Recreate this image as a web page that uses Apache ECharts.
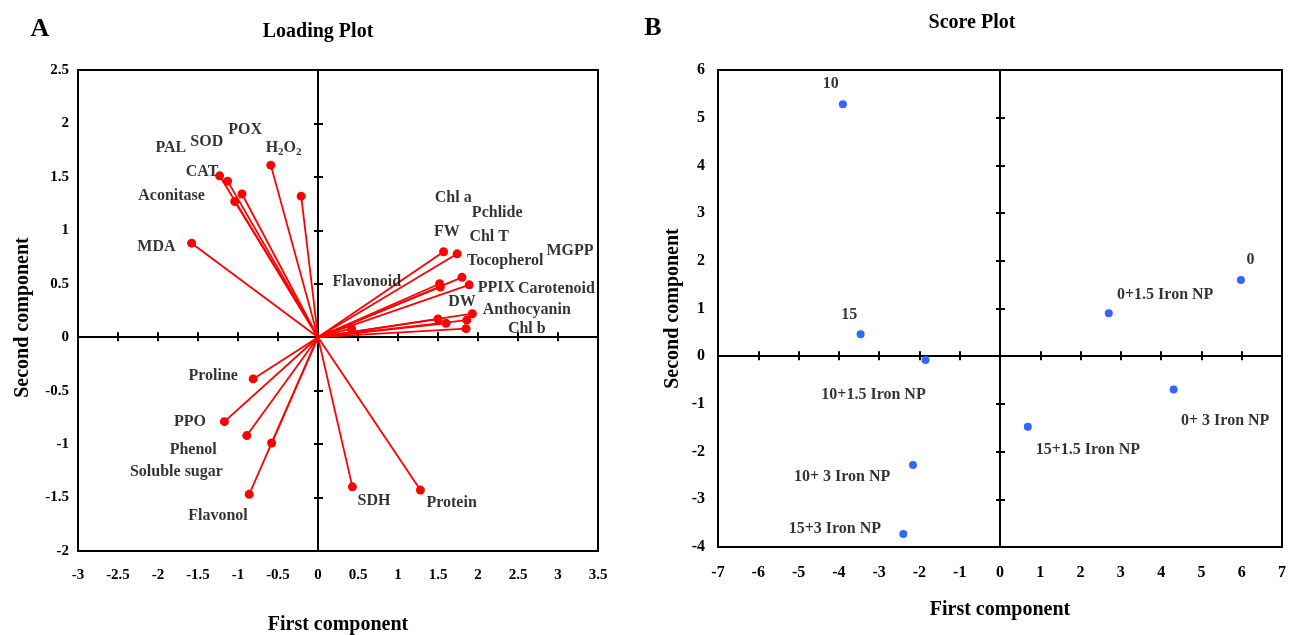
<!DOCTYPE html>
<html>
<head>
<meta charset="utf-8">
<title>Loading plot / Score plot</title>
<script src="https://cdn.jsdelivr.net/npm/echarts@6/dist/echarts.min.js"></script>
<style>
  html, body { margin: 0; padding: 0; background: #fff; }
  #chart { width: 1289px; height: 635px; }
</style>
</head>
<body>
<div id="chart"></div>
<script>
// A: loading plot, one vector per measured trait
const loadNames = ['PAL', 'SOD', 'POX', 'H2O2', 'CAT', 'Aconitase', 'MDA',
  'Chl a', 'Pchlide', 'FW', 'Chl T', 'MGPP', 'Tocopherol', 'Flavonoid', 'PPIX',
  'Carotenoid', 'DW', 'Anthocyanin', 'Chl b',
  'Proline', 'PPO', 'Phenol', 'Soluble sugar', 'Flavonol', 'SDH', 'Protein'];
const loadX = [-1.13, -1.04, -0.95, -0.59, -1.23, -0.21, -1.58,
  1.74, 1.80, 1.57, 1.89, 1.93, 1.52, 0.42, 1.86,
  1.85, 1.53, 1.50, 1.60,
  -0.81, -1.17, -0.89, -0.58, -0.86, 0.43, 1.28];
const loadY = [1.46, 1.27, 1.34, 1.61, 1.51, 1.32, 0.88,
  0.78, 0.56, 0.80, 0.49, 0.22, 0.50, 0.08, 0.16,
  0.08, 0.47, 0.17, 0.13,
  -0.39, -0.79, -0.92, -0.99, -1.47, -1.40, -1.43];
// where each name is written (axis units)
const loadTextX = [-1.84, -1.39, -0.91, -0.43, -1.45, -1.83, -2.02,
  1.69, 2.24, 1.61, 2.14, 3.15, 2.34, 0.61, 2.23,
  2.98, 1.80, 2.61, 2.61,
  -1.31, -1.60, -1.56, -1.77, -1.25, 0.70, 1.67];
const loadTextY = [1.77, 1.83, 1.94, 1.77, 1.55, 1.32, 0.85,
  1.30, 1.16, 0.99, 0.94, 0.81, 0.71, 0.52, 0.46,
  0.45, 0.33, 0.26, 0.08,
  -0.36, -0.79, -1.05, -1.26, -1.67, -1.53, -1.55];

// B: score plot, one point per treatment
const scoreNames = ['10', '15', '10+1.5 Iron NP', '0+1.5 Iron NP', '0',
  '0+ 3 Iron NP', '15+1.5 Iron NP', '10+ 3 Iron NP', '15+3 Iron NP'];
const scoreX = [-3.90, -3.46, -1.85, 2.70, 5.98, 4.31, 0.69, -2.16, -2.40];
const scoreY = [5.28, 0.46, -0.08, 0.90, 1.60, -0.70, -1.48, -2.28, -3.73];
const scoreTextX = [-4.20, -3.74, -3.14, 4.10, 6.22, 5.59, 2.18, -3.92, -4.10];
const scoreTextY = [5.70, 0.86, -0.81, 1.28, 2.02, -1.35, -1.97, -2.52, -3.63];

// axis ranges: [min, max, step]
const loadXRange = [-3, 3.5, 0.5];
const loadYRange = [-2, 2.5, 0.5];
const scoreXRange = [-7, 7, 1];
const scoreYRange = [-4, 6, 1];

const FONT = '"Liberation Serif", "Times New Roman", serif';
const txt = (size) => ({ fontFamily: FONT, fontWeight: 'bold', fontSize: size, color: '#000' });

// three axes per direction: one carrying the labels on the frame,
// two sitting on zero so the ticks cross the zero line
function makeAxes(dim, grid, range, name, opts) {
  const base = { type: 'value', gridIndex: grid, min: range[0], max: range[1], interval: range[2],
    splitLine: { show: false } };
  const pos = dim === 'x' ? 'bottom' : 'left';
  return [
    Object.assign({}, base, {
      position: pos,
      axisLine: { show: false, onZero: false },
      axisTick: { show: false },
      axisLabel: Object.assign(txt(opts.labelSize), { margin: opts.margin }),
      name: name, nameLocation: 'middle', nameGap: opts.nameGap,
      nameTextStyle: Object.assign(txt(opts.nameSize), { padding: opts.namePad || 0 })
    }),
    Object.assign({}, base, {
      position: pos,
      axisLine: { onZero: true, lineStyle: { color: '#000', width: 2 } },
      axisTick: { inside: true, length: 5, lineStyle: { color: '#000', width: 2 } },
      axisLabel: { show: false }
    }),
    Object.assign({}, base, {
      position: pos,
      axisLine: { onZero: true, lineStyle: { color: '#000', width: 2 } },
      axisTick: { inside: false, length: 4, lineStyle: { color: '#000', width: 2 } },
      axisLabel: { show: false }
    })
  ];
}

const subRich = {
  s: { fontFamily: FONT, fontWeight: 'bold', fontSize: 11, color: '#000', padding: [9, 0, 0, 0] }
};

function textSeries(xIdx, yIdx, names, xs, ys, size) {
  return {
    type: 'scatter', xAxisIndex: xIdx, yAxisIndex: yIdx, silent: true,
    symbol: 'circle', symbolSize: 1, itemStyle: { color: 'rgba(0,0,0,0)' },
    label: Object.assign(txt(size), {
      show: true, position: 'inside',
      formatter: (p) => p.name === 'H2O2' ? 'H{s|2}O{s|2}' : p.name,
      rich: subRich
    }),
    data: names.map((n, i) => ({ name: n, value: [xs[i], ys[i]] })),
    z: 5
  };
}

const chart = echarts.init(document.getElementById('chart'), null, { renderer: 'canvas' });

chart.setOption({
  animation: false,
  backgroundColor: '#fff',
  graphic: [
    { type: 'text', x: 40, y: 29, style: Object.assign(txt(26), { text: 'A', align: 'center', verticalAlign: 'middle' }) },
    { type: 'text', x: 318, y: 32, style: Object.assign(txt(20), { text: 'Loading Plot', align: 'center', verticalAlign: 'middle' }) },
    { type: 'text', x: 653, y: 28, style: Object.assign(txt(26), { text: 'B', align: 'center', verticalAlign: 'middle' }) },
    { type: 'text', x: 972, y: 23, style: Object.assign(txt(20), { text: 'Score Plot', align: 'center', verticalAlign: 'middle' }) }
  ],
  grid: [
    { left: 78, right: 691, top: 70, bottom: 84, outerBoundsMode: 'none', containLabel: false,
      show: true, borderColor: '#000', borderWidth: 2 },
    { left: 718, right: 7, top: 70, bottom: 88, outerBoundsMode: 'none', containLabel: false,
      show: true, borderColor: '#000', borderWidth: 2 }
  ],
  xAxis: [].concat(
    makeAxes('x', 0, loadXRange, 'First component', { labelSize: 15, margin: 17, nameGap: 64, nameSize: 20 }),
    makeAxes('x', 1, scoreXRange, 'First component', { labelSize: 16, margin: 18, nameGap: 53, nameSize: 20 })
  ),
  yAxis: [].concat(
    makeAxes('y', 0, loadYRange, 'Second component', { labelSize: 15, margin: 9, nameGap: 45, nameSize: 20, namePad: [0, 14, 0, 0] }),
    makeAxes('y', 1, scoreYRange, 'Second component', { labelSize: 16, margin: 13, nameGap: 35, nameSize: 20 })
  ),
  series: [
    {
      type: 'lines', coordinateSystem: 'cartesian2d', xAxisIndex: 0, yAxisIndex: 0, silent: true,
      lineStyle: { color: '#ff0000', width: 1.8, opacity: 1 },
      data: loadX.map((x, i) => ({ coords: [[0, 0], [x, loadY[i]]] })),
      z: 3
    },
    {
      type: 'scatter', xAxisIndex: 0, yAxisIndex: 0, silent: true,
      symbolSize: 9, itemStyle: { color: '#ff0000', opacity: 1 },
      data: loadX.map((x, i) => [x, loadY[i]]),
      z: 4
    },
    textSeries(0, 0, loadNames, loadTextX, loadTextY, 16),
    {
      type: 'scatter', xAxisIndex: 3, yAxisIndex: 3, silent: true,
      symbolSize: 8, itemStyle: { color: '#3366ff', opacity: 1 },
      data: scoreX.map((x, i) => [x, scoreY[i]]),
      z: 4
    },
    textSeries(3, 3, scoreNames, scoreTextX, scoreTextY, 16)
  ]
});
</script>
</body>
</html>
